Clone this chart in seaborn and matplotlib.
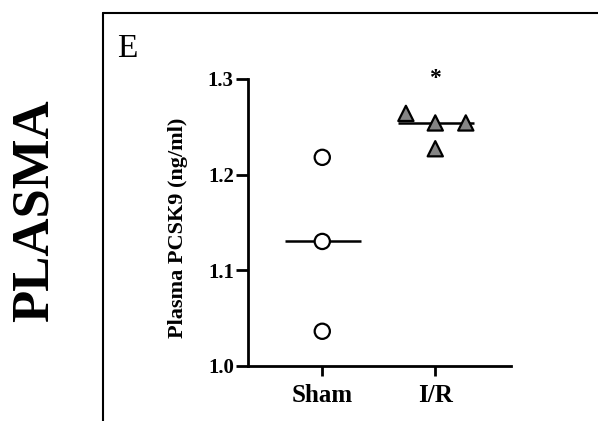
import pandas as pd
import numpy as np
import seaborn as sns
import matplotlib.pyplot as plt
from matplotlib.lines import Line2D

# values
groups = ["Sham", "I/R"]
sham_values = [1.218, 1.130, 1.036]
ir_values = [1.264, 1.254, 1.227, 1.254]
# horizontal spread of the points (category units)
sham_spread = [0.0, 0.0, 0.0]
ir_spread = [-0.26, 0.0, 0.0, 0.27]
y_ticks = [1.0, 1.1, 1.2, 1.3]

df = pd.DataFrame({
    "group": ["Sham"] * len(sham_values) + ["I/R"] * len(ir_values),
    "value": sham_values + ir_values,
    "spread": sham_spread + ir_spread,
})
df["pos"] = df["group"].map({g: i for i, g in enumerate(groups)}) + df["spread"]

sns.set_style("ticks")
plt.rcParams["font.family"] = ["Liberation Serif", "DejaVu Serif"]
plt.rcParams["text.color"] = "black"
plt.rcParams["xtick.color"] = "black"
plt.rcParams["ytick.color"] = "black"
plt.rcParams["axes.labelcolor"] = "black"

fig = plt.figure(figsize=(5.98, 4.21), dpi=100)
ax = fig.add_axes([0.4142, 0.1314, 0.4403, 0.681])

sns.scatterplot(data=df, x="pos", y="value", hue="group", style="group",
                markers={"Sham": "o", "I/R": "^"},
                palette={"Sham": "white", "I/R": "#858585"},
                s=120, edgecolor="black", linewidth=1.6, legend=False,
                zorder=3, clip_on=False, ax=ax)

# median lines
for i, g in enumerate(groups):
    med = np.median(df.loc[df["group"] == g, "value"])
    ax.hlines(med, i - 0.33, i + 0.34, color="black", lw=1.8, zorder=2)

ax.set_xlim(-0.66, 1.67)
ax.set_ylim(1.0, 1.3)
ax.set_xticks(range(len(groups)))
ax.set_xticklabels(groups, fontsize=18, fontweight="bold")
ax.set_yticks(y_ticks)
ax.set_yticklabels([f"{t:.1f}" for t in y_ticks], fontsize=15, fontweight="bold")
ax.set_xlabel("")
ax.set_ylabel("Plasma PCSK9 (ng/ml)", fontsize=16, fontweight="bold")
ax.yaxis.set_label_coords(-0.225, 0.48)
for side in ["left", "bottom"]:
    ax.spines[side].set_linewidth(2)
    ax.spines[side].set_color("black")
sns.despine(ax=ax)
ax.tick_params(axis="y", width=2, length=9, pad=1)
ax.tick_params(axis="x", width=2, length=7, pad=6)

ax.text(1, 1.3, "*", ha="center", va="center", fontsize=17, fontweight="bold", clip_on=False)

# panel frame and labels
fig.add_artist(Line2D([0.172, 0.172], [0, 0.97], color="black", lw=1.5))
fig.add_artist(Line2D([0.172, 1.0], [0.97, 0.97], color="black", lw=1.5))
fig.text(0.196, 0.884, "E", fontsize=24, ha="left", va="center")
fig.text(0.058, 0.5, "PLASMA", fontsize=38, fontweight="bold", rotation=90,
         ha="center", va="center")

fig.savefig("out.png", dpi=100)
